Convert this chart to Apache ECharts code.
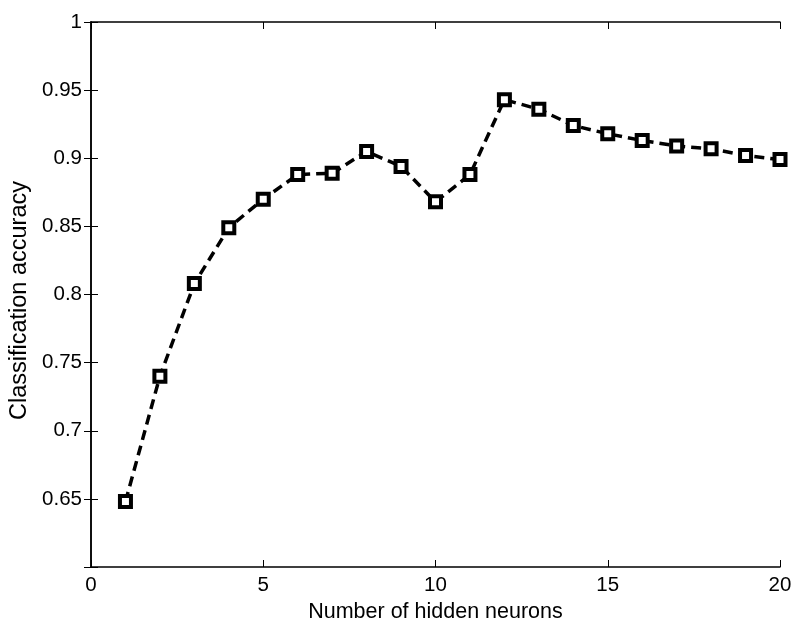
<!DOCTYPE html>
<html>
<head>
<meta charset="utf-8">
<script src="https://cdn.jsdelivr.net/npm/echarts@6/dist/echarts.min.js"></script>
<style>
  html, body { margin: 0; padding: 0; background: #fff; }
  #chart { width: 792px; height: 624px; }
</style>
</head>
<body>
<div id="chart"></div>
<script>
// hidden neurons vs accuracy
var neurons = [1, 2, 3, 4, 5, 6, 7, 8, 9, 10, 11, 12, 13, 14, 15, 16, 17, 18, 19, 20];
var accuracy = [0.648, 0.740, 0.808, 0.849, 0.870, 0.888, 0.889, 0.905, 0.894, 0.868,
                0.888, 0.943, 0.936, 0.924, 0.918, 0.913, 0.909, 0.907, 0.902, 0.899];
var xTicks = [0, 5, 10, 15, 20];
var yTicks = [0.6, 0.65, 0.7, 0.75, 0.8, 0.85, 0.9, 0.95, 1];

var font = "'Liberation Sans', Arial, sans-serif";
var chart = echarts.init(document.getElementById("chart"));

var points = neurons.map(function (n, i) { return [n, accuracy[i]]; });

// frame axes: mirror ticks on top / right, no labels
var tickStyle = { show: true, inside: true, length: 7, lineStyle: { color: "#000", width: 1 } };

chart.setOption({
  animation: false,
  backgroundColor: "#fff",
  grid: { left: 91, right: 12, top: 22, bottom: 57, outerBoundsMode: "none" },
  xAxis: [
    {
      type: "value",
      min: 0,
      max: 20,
      interval: 5,
      name: "Number of hidden neurons",
      nameLocation: "middle",
      nameGap: 34,
      nameTextStyle: { fontFamily: font, fontSize: 21.5, color: "#000", verticalAlign: "top" },
      axisLine: { show: true, lineStyle: { color: "#000", width: 1.5 } },
      axisTick: tickStyle,
      axisLabel: {
        fontFamily: font, fontSize: 20.5, color: "#000", margin: 8,
        formatter: function (v) { return xTicks.indexOf(v) >= 0 ? String(v) : ""; }
      },
      splitLine: { show: false }
    },
    {
      type: "value",
      position: "top",
      min: 0,
      max: 20,
      interval: 5,
      axisLine: { show: true, lineStyle: { color: "#000", width: 1.5 } },
      axisTick: tickStyle,
      axisLabel: { show: false },
      splitLine: { show: false }
    }
  ],
  yAxis: [
    {
      type: "value",
      min: 0.6,
      max: 1,
      interval: 0.05,
      name: "Classification accuracy",
      nameLocation: "middle",
      nameGap: 58,
      nameTextStyle: { fontFamily: font, fontSize: 23.5, color: "#000", padding: [0, 12, 0, 0] },
      axisLine: { show: true, lineStyle: { color: "#000", width: 1.5 } },
      axisTick: tickStyle,
      axisLabel: {
        fontFamily: font, fontSize: 20.5, color: "#000", margin: 9,
        formatter: function (v) {
          var r = Math.round(v * 100) / 100;
          if (r === 0.6) return "";
          return yTicks.indexOf(r) >= 0 ? String(r) : "";
        }
      },
      splitLine: { show: false }
    },
    {
      type: "value",
      position: "right",
      min: 0.6,
      max: 1,
      interval: 0.05,
      axisLine: { show: true, lineStyle: { color: "#000", width: 1.5 } },
      axisTick: tickStyle,
      axisLabel: { show: false },
      splitLine: { show: false }
    }
  ],
  series: [
    {
      type: "line",
      data: points,
      symbol: "rect",
      symbolSize: 11,
      lineStyle: { color: "#000", width: 3.5, type: [10, 6] },
      itemStyle: { color: "#fff", borderColor: "#000", borderWidth: 4 },
      z: 3
    }
  ]
});
</script>
</body>
</html>
